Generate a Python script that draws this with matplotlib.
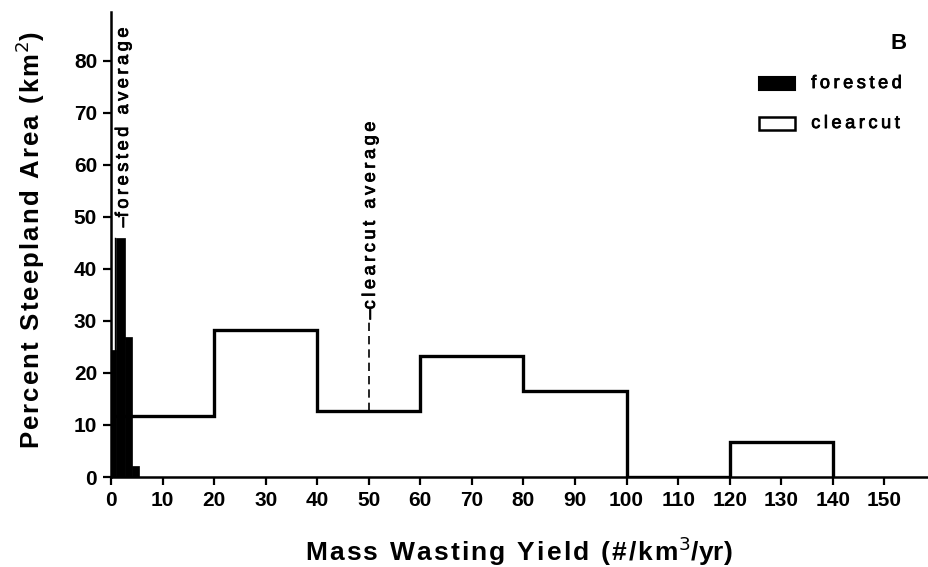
import matplotlib
matplotlib.use("Agg")
import matplotlib.pyplot as plt
import matplotlib.patheffects as pe
import numpy as np
from matplotlib.patches import Rectangle

# clearcut histogram (20-unit bins)
clearcut_edges = [0, 20, 40, 60, 80, 100, 120, 140]
clearcut_pct = [11.8, 28.2, 12.7, 23.2, 16.6, 0.0, 6.7]
clearcut_avg = 50

# forested histogram (narrow bins near zero)
forested_edges = [0, 0.9, 2.7, 4.1, 5.4]
forested_pct = [24.4, 46.0, 27.0, 2.2]
forested_avg = 0.8

x_ticks = np.arange(0, 160, 10)
y_ticks = np.arange(0, 90, 10)

HELV = ['Liberation Sans', 'DejaVu Sans']
plt.rcParams['font.family'] = HELV


def spaced(s, sp='\u200a'):
    # the old figure uses wide letter spacing
    return sp.join(s)


heavy = [pe.withStroke(linewidth=0.6, foreground='black')]

fig = plt.figure(figsize=(9.29, 5.67), dpi=100)
ax = fig.add_axes([0.1195, 0.1587, 0.8785, 0.8203])

# forested bars, filled black
widths = np.diff(forested_edges)
ax.bar(forested_edges[:-1], forested_pct, width=widths, align='edge',
       color='black', edgecolor='black', linewidth=0.5, zorder=3)

# clearcut outline
ax.stairs(clearcut_pct, clearcut_edges, color='black', linewidth=2.4,
          baseline=0, fill=False, zorder=2)

# average markers
ax.plot([forested_avg, forested_avg], [forested_pct[0], forested_pct[1]],
        color='black', linewidth=1.0, zorder=4)
ax.text(2.4, 48.0, '\u2013' + spaced('forested average', '\u2009'),
        rotation=90, ha='center', va='bottom', fontsize=13, color='black',
        path_effects=heavy)

ax.plot([clearcut_avg, clearcut_avg], [clearcut_pct[2], 30.3],
        color='black', linewidth=1.2, linestyle=(0, (5, 3)), zorder=4)
ax.text(clearcut_avg + 0.3, 30.3, '\u2013' + spaced('clearcut average', '\u2009'),
        rotation=90, ha='center', va='bottom', fontsize=13, color='black',
        path_effects=heavy)

ax.set_xlim(0, 158.3)
ax.set_ylim(0, 89.4)
ax.set_xticks(x_ticks)
ax.set_yticks(y_ticks)
ax.tick_params(direction='out', length=6, width=1.6, labelsize=15, pad=4)
for lab in ax.get_xticklabels() + ax.get_yticklabels():
    lab.set_fontweight('bold')

ax.spines['top'].set_visible(False)
ax.spines['right'].set_visible(False)
ax.spines['left'].set_linewidth(1.8)
ax.spines['bottom'].set_linewidth(1.8)

ax.set_xlabel(spaced('Mass Wasting Yield (#/km') + '$^{3}$/yr)',
              fontsize=19, fontweight='bold', labelpad=18)
ax.set_ylabel(spaced('Percent Steepland Area (km') + '$^{2}$)',
              fontsize=18.5, fontweight='bold')
ax.yaxis.set_label_coords(-0.079, 0.51)

# legend drawn by hand in axes coordinates
ax.text(0.975, 0.931, 'B', transform=ax.transAxes, ha='right', va='center',
        fontsize=16, fontweight='bold')
ax.add_patch(Rectangle((0.794, 0.832), 0.044, 0.028, transform=ax.transAxes,
                       facecolor='black', edgecolor='black', linewidth=1.5,
                       clip_on=False))
ax.text(0.858, 0.846, spaced('forested', '\u2009'), transform=ax.transAxes,
        ha='left', va='center', fontsize=13, path_effects=heavy)
ax.add_patch(Rectangle((0.794, 0.746), 0.044, 0.028, transform=ax.transAxes,
                       facecolor='white', edgecolor='black', linewidth=1.8,
                       clip_on=False))
ax.text(0.858, 0.760, spaced('clearcut', '\u2009'), transform=ax.transAxes,
        ha='left', va='center', fontsize=13, path_effects=heavy)

fig.savefig('out.png', dpi=100)
